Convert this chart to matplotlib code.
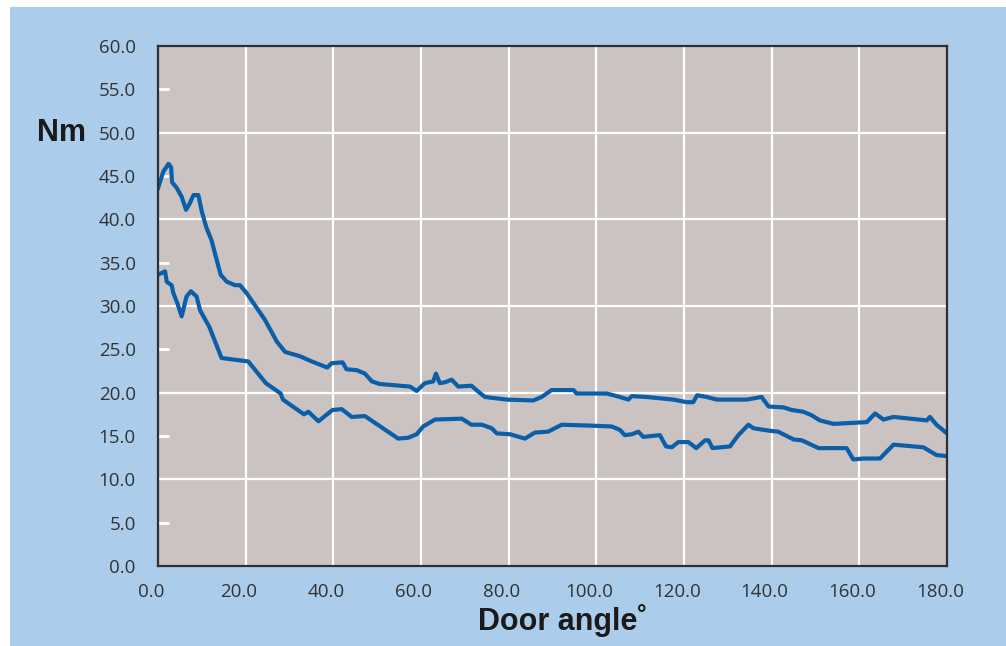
import matplotlib
matplotlib.use("Agg")
import matplotlib.pyplot as plt
import matplotlib.transforms as mtransforms
from matplotlib.patches import Rectangle

# ---- data ----
upper_x = [0, 1.2, 2.4, 3.0, 3.2, 4.3, 5.4, 6.4, 7.2, 8.1, 9.2, 10.0, 11.0, 12.2, 13.4,
           14.3, 15.7, 17.6, 18.7, 20.2, 22.1, 24.4, 27.1, 29.0, 32.4, 35.1, 38.6, 39.6,
           42.1, 43.0, 45.3, 47.2, 48.8, 50.6, 57.5, 59.0, 60.9, 62.8, 63.4, 64.3, 65.5,
           67.0, 68.5, 71.5, 73.1, 74.6, 79.6, 85.6, 87.5, 89.8, 94.8, 95.5, 102.4, 105.4,
           107.3, 108.1, 111.5, 117.6, 120.6, 122.1, 123.0, 125.2, 127.5, 134.3, 137.7,
           139.3, 142.7, 144.6, 147.2, 149.1, 151.0, 154.1, 161.7, 163.6, 165.5, 167.8,
           175.4, 176.1, 177.6, 180.0]
upper_y = [43.6, 45.5, 46.4, 46.0, 44.3, 43.6, 42.6, 41.1, 41.8, 42.8, 42.8, 40.9, 39.1,
           37.6, 35.3, 33.6, 32.8, 32.4, 32.4, 31.5, 30.1, 28.4, 25.9, 24.7, 24.2, 23.6,
           22.9, 23.4, 23.5, 22.7, 22.6, 22.2, 21.3, 21.0, 20.7, 20.2, 21.1, 21.3, 22.2,
           21.1, 21.2, 21.5, 20.7, 20.8, 20.1, 19.5, 19.2, 19.1, 19.5, 20.3, 20.3, 19.9,
           19.9, 19.5, 19.2, 19.6, 19.5, 19.2, 18.9, 18.9, 19.7, 19.5, 19.2, 19.2, 19.5,
           18.4, 18.3, 18.0, 17.8, 17.4, 16.8, 16.4, 16.6, 17.6, 16.9, 17.2, 16.8, 17.2,
           16.3, 15.3]

lower_x = [0, 1.6, 2.0, 3.1, 3.5, 4.5, 5.4, 6.5, 7.5, 8.8, 9.6, 11.7, 14.5, 20.6, 24.6,
           28.0, 28.5, 33.3, 34.3, 36.6, 39.8, 41.9, 44.2, 47.2, 54.8, 57.1, 59.0, 60.5,
           63.2, 69.3, 71.5, 73.9, 76.1, 77.3, 80.3, 83.7, 86.0, 89.0, 92.1, 98.6, 103.5,
           105.4, 106.5, 108.1, 109.6, 110.7, 114.5, 115.9, 117.2, 118.7, 121.0, 122.8,
           124.8, 125.6, 126.5, 130.5, 132.4, 134.7, 135.8, 139.6, 141.5, 145.0, 146.9,
           150.7, 157.1, 158.6, 160.9, 164.7, 167.8, 174.6, 177.6, 179.6]
lower_y = [33.6, 34.0, 32.8, 32.4, 31.5, 30.2, 28.8, 31.1, 31.7, 31.1, 29.5, 27.6, 24.0,
           23.6, 21.1, 19.9, 19.2, 17.5, 17.8, 16.7, 18.0, 18.1, 17.2, 17.3, 14.7, 14.8,
           15.2, 16.1, 16.9, 17.0, 16.3, 16.3, 15.9, 15.3, 15.2, 14.7, 15.4, 15.5, 16.3,
           16.2, 16.1, 15.7, 15.1, 15.2, 15.5, 14.9, 15.1, 13.8, 13.7, 14.3, 14.3, 13.6,
           14.5, 14.5, 13.6, 13.8, 15.1, 16.3, 15.9, 15.6, 15.5, 14.6, 14.5, 13.6, 13.6,
           12.3, 12.4, 12.4, 14.0, 13.7, 12.8, 12.7]

x_ticks = [0, 20, 40, 60, 80, 100, 120, 140, 160, 180]
y_ticks = [0, 5, 10, 15, 20, 25, 30, 35, 40, 45, 50, 55, 60]
y_grid = [10, 20, 30, 40, 50]
x_grid = [20, 40, 60, 80, 100, 120, 140, 160]
y_minor = [5, 15, 25, 35, 45, 55]

# ---- style ----
BLUE_BG = "#ABCDEB"
PLOT_BG = "#CBC3C1"
LINE = "#0B5EA8"
TXT = "#333333"

fig = plt.figure(figsize=(10.06, 6.46), dpi=100, facecolor="white")
bg = Rectangle((10 / 1006, 0), 1 - 10 / 1006, (646 - 7) / 646,
               transform=fig.transFigure, facecolor=BLUE_BG,
               edgecolor="none", zorder=-10)
fig.add_artist(bg)

ax = fig.add_axes([158 / 1006, 80 / 646, (947 - 158) / 1006, (566 - 46) / 646])
ax.set_zorder(5)
ax.set_facecolor(PLOT_BG)
ax.set_xlim(0, 180)
ax.set_ylim(0, 60)

for g in y_grid:
    ax.axhline(g, color="white", lw=1.6, zorder=1)
for g in x_grid:
    ax.axvline(g, color="white", lw=1.6, zorder=1)
# short white marks at the odd multiples of 5 along the left edge
yaxis_tr = ax.get_yaxis_transform()
for m in y_minor:
    ax.plot([0, 0.0135], [m, m], transform=yaxis_tr, color="white", lw=2.0,
            solid_capstyle="butt", zorder=2, clip_on=False)

ax.plot(upper_x, upper_y, color=LINE, lw=3.0, solid_joinstyle="round", zorder=3)
ax.plot(lower_x, lower_y, color=LINE, lw=3.0, solid_joinstyle="round", zorder=3)

ax.set_xticks(x_ticks)
ax.set_xticklabels([f"{v:.1f}" for v in x_ticks])
ax.set_yticks(y_ticks)
ax.set_yticklabels([f"{v:.1f}" for v in y_ticks])
ax.tick_params(axis="both", which="major", length=0, labelsize=13.5, labelcolor=TXT)
ax.tick_params(axis="y", which="major", pad=16)
ax.tick_params(axis="x", which="major", pad=12)
for lab in ax.get_xticklabels() + ax.get_yticklabels():
    lab.set_family("Open Sans")
off = mtransforms.ScaledTranslation(-7 / 100, 0, fig.dpi_scale_trans)
for lab in ax.get_xticklabels():
    lab.set_transform(lab.get_transform() + off)

for s in ax.spines.values():
    s.set_color("#2f2f2f")
    s.set_linewidth(1.6)
    s.set_zorder(4)

fig.text(37 / 1006, (646 - 141) / 646, "Nm", fontsize=22, fontweight="bold",
         family="Liberation Sans", color="#1a1a1a", ha="left", va="baseline")
fig.text(478 / 1006, (646 - 630) / 646, "Door angle\u02da", fontsize=22,
         fontweight="bold", family="Liberation Sans", color="#1a1a1a",
         ha="left", va="baseline")

fig.savefig("out.png", dpi=100, facecolor=fig.get_facecolor())
